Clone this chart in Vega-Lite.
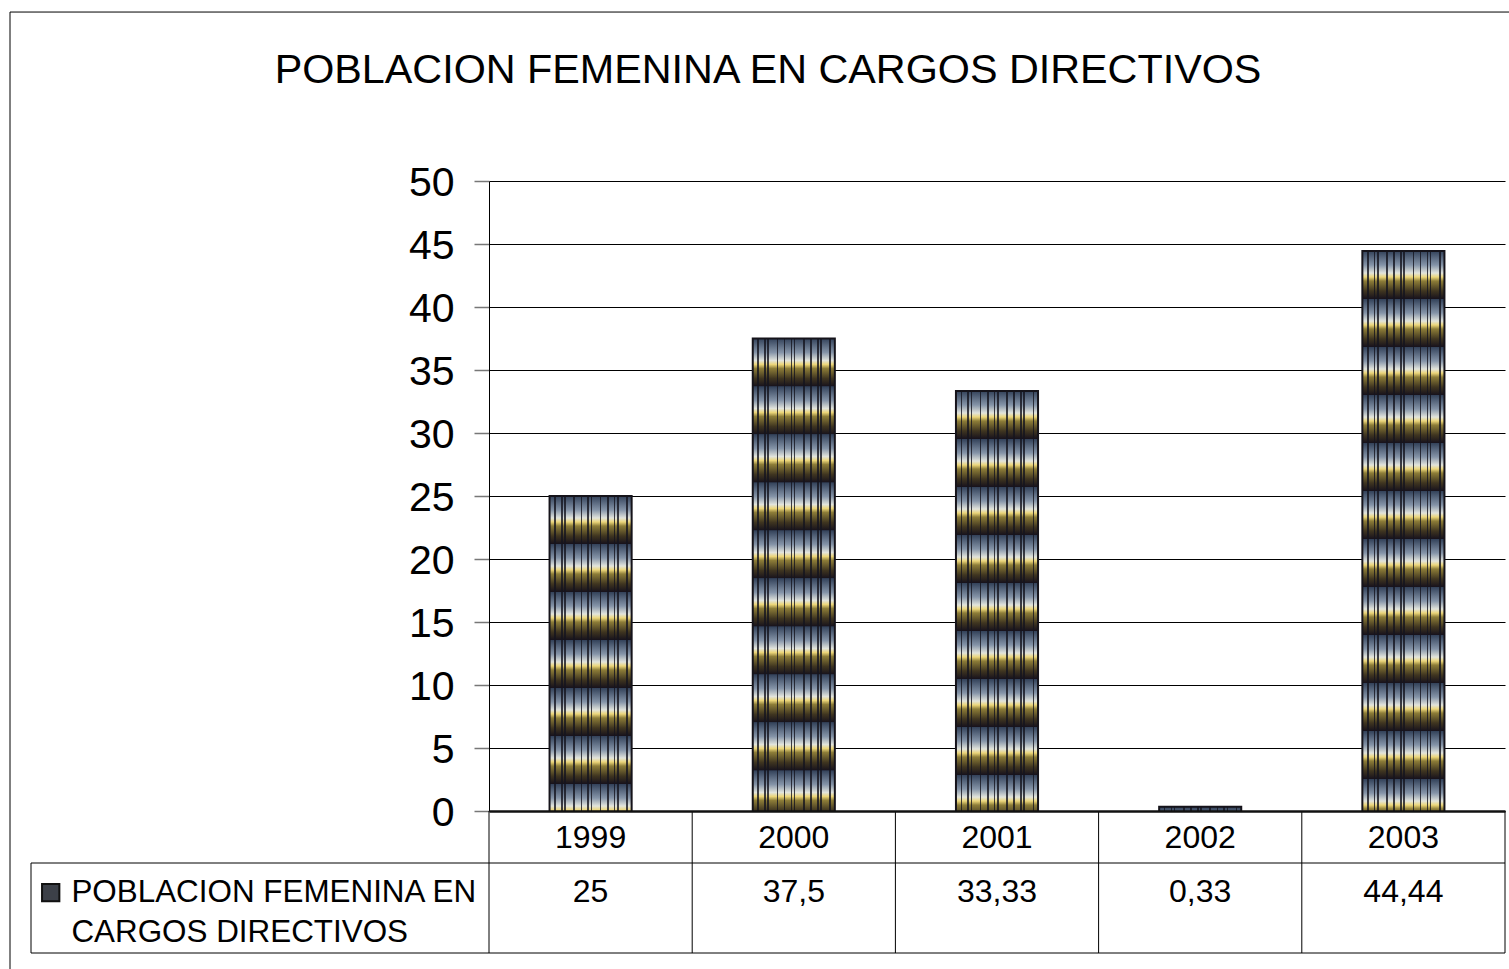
{
"$schema":"https://vega.github.io/schema/vega-lite/v6.json",
"width":1016,"height":630,
"autosize":{"type":"none"},
"padding":{"left":489,"top":181,"right":4,"bottom":158},
"background":"white",
"title":{"text":"POBLACION FEMENINA EN CARGOS DIRECTIVOS","font":"Liberation Sans","fontSize":41.3,"fontWeight":"normal","color":"#000000","anchor":"middle","dx":-229,"offset":-80},
"config":{"view":{"stroke":null},
"rect":{"stroke":"#15131a","strokeWidth":2,"fill":{"gradient":"linear","x1":0,"y1":0,"x2":0,"y2":1,"stops":[
{"offset":0,"color":"#33425a"},{"offset":0.0243,"color":"#8594a8"},{"offset":0.0382,"color":"#e2e4dc"},{"offset":0.0451,"color":"#ecd67a"},{"offset":0.0521,"color":"#8d7d38"},{"offset":0.0694,"color":"#3f3520"},{"offset":0.0831,"color":"#17121c"},
{"offset":0.0834,"color":"#33425a"},{"offset":0.1076,"color":"#8594a8"},{"offset":0.1215,"color":"#e2e4dc"},{"offset":0.1284,"color":"#ecd67a"},{"offset":0.1354,"color":"#8d7d38"},{"offset":0.1527,"color":"#3f3520"},{"offset":0.1664,"color":"#17121c"},
{"offset":0.1667,"color":"#33425a"},{"offset":0.191,"color":"#8594a8"},{"offset":0.2049,"color":"#e2e4dc"},{"offset":0.2118,"color":"#ecd67a"},{"offset":0.2188,"color":"#8d7d38"},{"offset":0.2361,"color":"#3f3520"},{"offset":0.2498,"color":"#17121c"},
{"offset":0.2501,"color":"#33425a"},{"offset":0.2743,"color":"#8594a8"},{"offset":0.2882,"color":"#e2e4dc"},{"offset":0.2951,"color":"#ecd67a"},{"offset":0.3021,"color":"#8d7d38"},{"offset":0.3194,"color":"#3f3520"},{"offset":0.3331,"color":"#17121c"},
{"offset":0.3334,"color":"#33425a"},{"offset":0.3576,"color":"#8594a8"},{"offset":0.3715,"color":"#e2e4dc"},{"offset":0.3784,"color":"#ecd67a"},{"offset":0.3854,"color":"#8d7d38"},{"offset":0.4027,"color":"#3f3520"},{"offset":0.4164,"color":"#17121c"},
{"offset":0.4167,"color":"#33425a"},{"offset":0.441,"color":"#8594a8"},{"offset":0.4549,"color":"#e2e4dc"},{"offset":0.4618,"color":"#ecd67a"},{"offset":0.4688,"color":"#8d7d38"},{"offset":0.4861,"color":"#3f3520"},{"offset":0.4998,"color":"#17121c"},
{"offset":0.5001,"color":"#33425a"},{"offset":0.5243,"color":"#8594a8"},{"offset":0.5382,"color":"#e2e4dc"},{"offset":0.5451,"color":"#ecd67a"},{"offset":0.5521,"color":"#8d7d38"},{"offset":0.5694,"color":"#3f3520"},{"offset":0.5831,"color":"#17121c"},
{"offset":0.5834,"color":"#33425a"},{"offset":0.6076,"color":"#8594a8"},{"offset":0.6215,"color":"#e2e4dc"},{"offset":0.6284,"color":"#ecd67a"},{"offset":0.6354,"color":"#8d7d38"},{"offset":0.6527,"color":"#3f3520"},{"offset":0.6664,"color":"#17121c"},
{"offset":0.6667,"color":"#33425a"},{"offset":0.691,"color":"#8594a8"},{"offset":0.7049,"color":"#e2e4dc"},{"offset":0.7118,"color":"#ecd67a"},{"offset":0.7188,"color":"#8d7d38"},{"offset":0.7361,"color":"#3f3520"},{"offset":0.7498,"color":"#17121c"},
{"offset":0.7501,"color":"#33425a"},{"offset":0.7743,"color":"#8594a8"},{"offset":0.7882,"color":"#e2e4dc"},{"offset":0.7951,"color":"#ecd67a"},{"offset":0.8021,"color":"#8d7d38"},{"offset":0.8194,"color":"#3f3520"},{"offset":0.8331,"color":"#17121c"},
{"offset":0.8334,"color":"#33425a"},{"offset":0.8576,"color":"#8594a8"},{"offset":0.8715,"color":"#e2e4dc"},{"offset":0.8784,"color":"#ecd67a"},{"offset":0.8854,"color":"#8d7d38"},{"offset":0.9027,"color":"#3f3520"},{"offset":0.9164,"color":"#17121c"},
{"offset":0.9167,"color":"#33425a"},{"offset":0.941,"color":"#8594a8"},{"offset":0.9549,"color":"#e2e4dc"},{"offset":0.9618,"color":"#ecd67a"},{"offset":0.9688,"color":"#8d7d38"},{"offset":0.9861,"color":"#3f3520"},{"offset":0.9998,"color":"#17121c"}
]}}},
"data":{"values":[
{"anio":"1999","valor":25,"etiqueta":"25"},
{"anio":"2000","valor":37.5,"etiqueta":"37,5"},
{"anio":"2001","valor":33.33,"etiqueta":"33,33"},
{"anio":"2002","valor":0.33,"etiqueta":"0,33"},
{"anio":"2003","valor":44.44,"etiqueta":"44,44"}
]},
"encoding":{
"x":{"field":"anio","type":"nominal","title":null,"scale":{"paddingInner":0,"paddingOuter":0},
"axis":{"ticks":false,"labelAngle":0,"labelFont":"Liberation Sans","labelFontSize":32,"labelColor":"#000000","labelBaseline":"middle","labelPadding":26,"domainColor":"#111111","domainWidth":2.5,"grid":false,"zindex":1}}
},
"layer":[
{"mark":{"type":"bar","width":{"band":0.404}},
"encoding":{
"y":{"field":"valor","type":"quantitative","title":null,"scale":{"domain":[0,50],"nice":false,"zero":true},
"axis":{"values":[0,5,10,15,20,25,30,35,40,45,50],"grid":true,"gridColor":"#000000","gridWidth":1,"gridOpacity":1,"domain":true,"domainColor":"#000000","tickColor":"#777777","tickSize":15,"tickWidth":1.5,"labelFont":"Liberation Sans","labelFontSize":41,"labelColor":"#000000","labelPadding":20,"labelOffset":2}},
"color":{"datum":"POBLACION FEMENINA EN CARGOS DIRECTIVOS","type":"nominal","scale":{"range":["#3c4048"]},
"legend":{"title":null,"orient":"none","legendX":-458,"legendY":692,"symbolType":"square","symbolSize":300,"symbolStrokeColor":"#111111","symbolStrokeWidth":2,"labelFont":"Liberation Sans","labelFontSize":31.4,"labelColor":"#000000","labelLimit":600,"labelOffset":5,"padding":4,"labelExpr":"['POBLACION FEMENINA EN','CARGOS DIRECTIVOS']","encode":{"labels":{"update":{"lineHeight":{"value":40}}}}}}
}},
{"transform":[{"filter":"datum.anio == '1999'"}],"mark":{"type":"rect","clip":true,"width":{"band":0.404}},"encoding":{"y":{"field":"valor","type":"quantitative"},"y2":{"datum":-20.714}}},
{"transform":[{"filter":"datum.anio == '2000'"}],"mark":{"type":"rect","clip":true,"width":{"band":0.404}},"encoding":{"y":{"field":"valor","type":"quantitative"},"y2":{"datum":-8.214}}},
{"transform":[{"filter":"datum.anio == '2001'"}],"mark":{"type":"rect","clip":true,"width":{"band":0.404}},"encoding":{"y":{"field":"valor","type":"quantitative"},"y2":{"datum":-12.384}}},
{"transform":[{"filter":"datum.anio == '2002'"}],"mark":{"type":"rect","clip":true,"width":{"band":0.404}},"encoding":{"y":{"field":"valor","type":"quantitative"},"y2":{"datum":-45.384}}},
{"transform":[{"filter":"datum.anio == '2003'"}],"mark":{"type":"rect","clip":true,"width":{"band":0.404}},"encoding":{"y":{"field":"valor","type":"quantitative"},"y2":{"datum":-1.274}}},
{"mark":{"type":"bar","width":{"band":0.39},"fill":{"gradient":"linear","x1":0,"y1":0,"x2":1,"y2":0,"stops":[
{"offset":0.04,"color":"rgba(20,20,30,0)"},{"offset":0.04,"color":"rgba(20,20,30,0.8)"},{"offset":0.06,"color":"rgba(20,20,30,0.8)"},{"offset":0.06,"color":"rgba(20,20,30,0)"},
{"offset":0.127,"color":"rgba(20,20,30,0)"},{"offset":0.127,"color":"rgba(20,20,30,0.8)"},{"offset":0.147,"color":"rgba(20,20,30,0.8)"},{"offset":0.147,"color":"rgba(20,20,30,0)"},
{"offset":0.167,"color":"rgba(20,20,30,0)"},{"offset":0.167,"color":"rgba(20,20,30,0.8)"},{"offset":0.187,"color":"rgba(20,20,30,0.8)"},{"offset":0.187,"color":"rgba(20,20,30,0)"},
{"offset":0.283,"color":"rgba(20,20,30,0)"},{"offset":0.283,"color":"rgba(20,20,30,0.8)"},{"offset":0.303,"color":"rgba(20,20,30,0.8)"},{"offset":0.303,"color":"rgba(20,20,30,0)"},
{"offset":0.373,"color":"rgba(20,20,30,0)"},{"offset":0.373,"color":"rgba(20,20,30,0.8)"},{"offset":0.393,"color":"rgba(20,20,30,0.8)"},{"offset":0.393,"color":"rgba(20,20,30,0)"},
{"offset":0.46,"color":"rgba(20,20,30,0)"},{"offset":0.46,"color":"rgba(20,20,30,0.8)"},{"offset":0.48,"color":"rgba(20,20,30,0.8)"},{"offset":0.48,"color":"rgba(20,20,30,0)"},
{"offset":0.5,"color":"rgba(20,20,30,0)"},{"offset":0.5,"color":"rgba(20,20,30,0.8)"},{"offset":0.52,"color":"rgba(20,20,30,0.8)"},{"offset":0.52,"color":"rgba(20,20,30,0)"},
{"offset":0.616,"color":"rgba(20,20,30,0)"},{"offset":0.616,"color":"rgba(20,20,30,0.8)"},{"offset":0.636,"color":"rgba(20,20,30,0.8)"},{"offset":0.636,"color":"rgba(20,20,30,0)"},
{"offset":0.706,"color":"rgba(20,20,30,0)"},{"offset":0.706,"color":"rgba(20,20,30,0.8)"},{"offset":0.726,"color":"rgba(20,20,30,0.8)"},{"offset":0.726,"color":"rgba(20,20,30,0)"},
{"offset":0.793,"color":"rgba(20,20,30,0)"},{"offset":0.793,"color":"rgba(20,20,30,0.8)"},{"offset":0.813,"color":"rgba(20,20,30,0.8)"},{"offset":0.813,"color":"rgba(20,20,30,0)"},
{"offset":0.833,"color":"rgba(20,20,30,0)"},{"offset":0.833,"color":"rgba(20,20,30,0.8)"},{"offset":0.853,"color":"rgba(20,20,30,0.8)"},{"offset":0.853,"color":"rgba(20,20,30,0)"},
{"offset":0.95,"color":"rgba(20,20,30,0)"},{"offset":0.95,"color":"rgba(20,20,30,0.8)"},{"offset":0.97,"color":"rgba(20,20,30,0.8)"},{"offset":0.97,"color":"rgba(20,20,30,0)"}
]}},"encoding":{"y":{"field":"valor","type":"quantitative"}}},
{"mark":{"type":"rule","color":"#000000","strokeWidth":1},"encoding":{"x":{"field":"anio","type":"nominal","bandPosition":0},"y":{"datum":-11.27},"y2":{"datum":0}}},
{"transform":[{"filter":"datum.anio == '2003'"}],"mark":{"type":"rule","color":"#000000","strokeWidth":1},"encoding":{"x":{"field":"anio","type":"nominal","bandPosition":1},"y":{"datum":-11.27},"y2":{"datum":0}}},
{"transform":[{"filter":"datum.anio == '1999'"}],"mark":{"type":"rule","color":"#000000","strokeWidth":1},"encoding":{"x":{"value":-458},"x2":{"value":1016},"y":{"datum":-4.127}}},
{"transform":[{"filter":"datum.anio == '1999'"}],"mark":{"type":"rule","color":"#000000","strokeWidth":1},"encoding":{"x":{"value":-458},"x2":{"value":1016},"y":{"datum":-11.27}}},
{"transform":[{"filter":"datum.anio == '1999'"}],"mark":{"type":"rule","color":"#000000","strokeWidth":1},"encoding":{"x":{"value":-458},"y":{"datum":-4.127},"y2":{"datum":-11.27}}},
{"mark":{"type":"text","font":"Liberation Sans","fontSize":32,"color":"#000000","baseline":"middle"},"encoding":{"y":{"datum":-6.43},"text":{"field":"etiqueta"}}},
{"transform":[{"filter":"datum.anio == '1999'"}],"mark":{"type":"rule","color":"#000000","strokeWidth":1},"encoding":{"x":{"value":-479},"y":{"datum":63.41},"y2":{"datum":-12.6}}},
{"transform":[{"filter":"datum.anio == '1999'"}],"mark":{"type":"rule","color":"#000000","strokeWidth":1},"encoding":{"x":{"value":-479},"x2":{"value":1020},"y":{"datum":63.41}}}
]
}
